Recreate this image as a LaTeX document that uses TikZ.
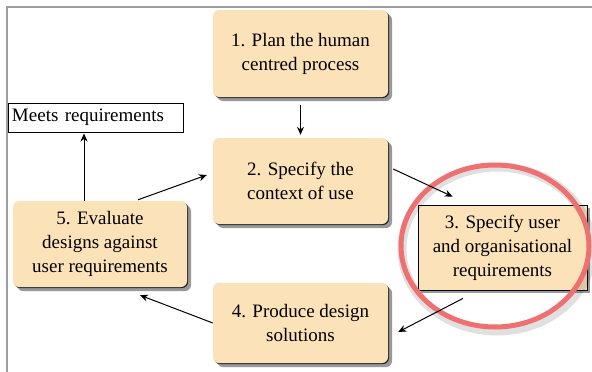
\documentclass[tikz,border=0pt]{standalone}
\usepackage{fontspec}
\setmainfont{Liberation Serif}
\newfontfamily\tnr{Liberation Serif}
\usetikzlibrary{shadows,arrows.meta}
\definecolor{peach}{RGB}{252,226,184}
\definecolor{ringred}{RGB}{238,112,112}
\definecolor{framegray}{RGB}{158,158,158}
\begin{document}
\begin{tikzpicture}[x=1pt,y=-1pt,
  txt/.style={font=\tnr\fontsize{19}{24}\selectfont, align=center, inner sep=0pt},
  stepbox/.style={txt, fill=peach, rounded corners=6pt,
    drop shadow={shadow xshift=4pt,shadow yshift=-4pt,fill=black!40,opacity=1},
    drop shadow={shadow xshift=1pt,shadow yshift=-1pt,fill=black!85,opacity=1}},
  reqbox/.style={txt, fill=peach, draw=black, line width=0.8pt,
    drop shadow={shadow xshift=3pt,shadow yshift=-3pt,fill=black!40,opacity=1}},
  meetbox/.style={txt, fill=white, draw=black, line width=1pt, text width=167pt, align=left, inner xsep=4pt},
  arr/.style={line width=1pt, -{Stealth[length=8pt,width=7pt]}}]
\useasboundingbox (0,0) rectangle (592,372);
\fill[white] (0,0) rectangle (592,372);
\draw[framegray, line width=2pt] (7,373) -- (7,7) -- (593,7);

\node[stepbox, minimum width=175pt, minimum height=87pt] (b1) at (300.5,53.5) {1. Plan the human\\centred process};
\node[stepbox, minimum width=175pt, minimum height=86pt] (b2) at (300.5,181) {2. Specify the\\context of use};
\node[reqbox, minimum width=169pt, minimum height=85pt] (b3) at (502.5,247.5) {3. Specify user\\and organisational\\requirements};
\node[stepbox, minimum width=175pt, minimum height=80pt] (b4) at (300.5,323) {4. Produce design\\solutions};
\node[stepbox, minimum width=174pt, minimum height=86pt] (b5) at (100,244) {5. Evaluate\\designs against\\user requirements};
\node[meetbox, minimum height=29pt] (m) at (95.5,117.5) {Meets requirements};

% red ring with soft shadow
\draw[black, opacity=0.12, line width=9pt] (497,249) ellipse (95pt and 82pt);
\draw[ringred, line width=5pt] (495,246) ellipse (94pt and 81pt);

\draw[arr] ([yshift=-8pt]b1.south) -- ([yshift=3pt]b2.north);
\draw[arr] ([xshift=5pt,yshift=12pt]b2.east) -- ([xshift=35pt,yshift=8pt]b3.north west);
\draw[arr] ([xshift=-39.5pt,yshift=-8pt]b3.south) -- ([xshift=10pt,yshift=-9pt]b4.east);
\draw[arr] (b4.west) -- ([xshift=40pt,yshift=-8pt]b5.south);
\draw[arr] ([xshift=38pt,yshift=1pt]b5.north) -- ([xshift=-6pt,yshift=6pt]b2.west);
\draw[arr] ([xshift=-16pt]b5.north) -- ([xshift=-11.5pt,yshift=-1pt]m.south);
\end{tikzpicture}
\end{document}
